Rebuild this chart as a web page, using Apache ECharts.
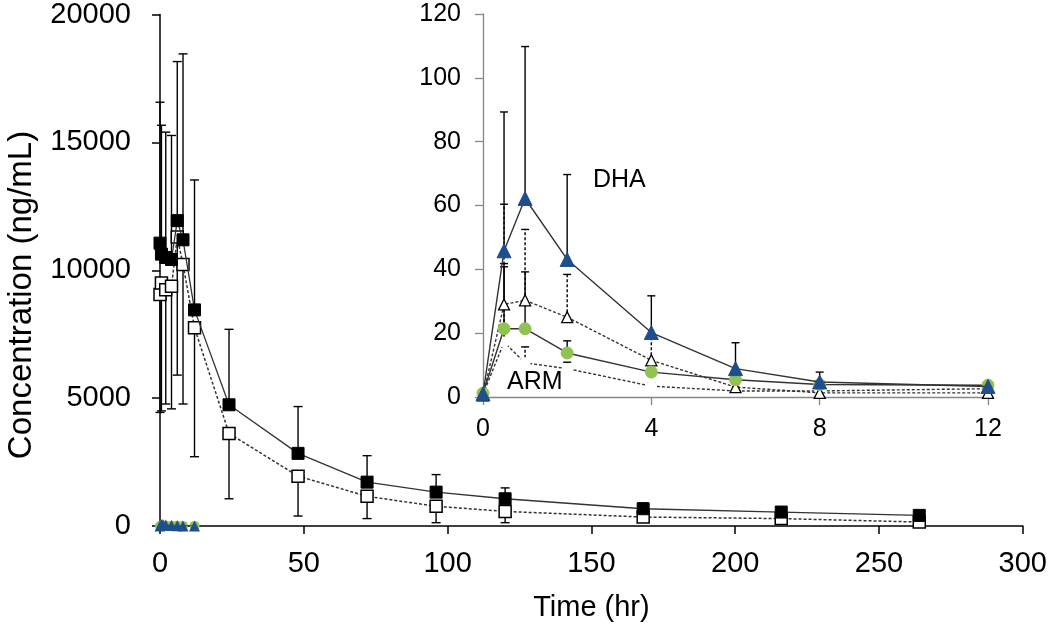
<!DOCTYPE html>
<html>
<head>
<meta charset="utf-8">
<script src="https://cdn.jsdelivr.net/npm/echarts@6.0.0/dist/echarts.min.js"></script>
<style>html,body{margin:0;padding:0;background:#fff}#c{width:1050px;height:627px}</style>
</head>
<body>
<div id="c"></div>
<script>
// ---- Main panel (squares) ----
const mainTimes = [0, 0.5, 2, 4, 6, 8, 12, 24, 48, 72, 96, 120, 168, 216, 264];
const filledSq = [11060, 10630, 10500, 10420, 11940, 11190, 8450, 4740, 2840, 1715, 1325, 1065, 675, 545, 415];
const filledSqSD = [5510, 5040, 4900, 4850, 6220, 7270, 5080, 2950, 1830, 1035, 685, 425, 225, 155, 105];
const openSq = [9050, 9500, 9240, 9370, 11300, 10220, 7750, 3620, 1950, 1160, 770, 570, 350, 290, 155];
const openSqSD = [4610, 5000, 4470, 4790, 5400, 5450, 5040, 2555, 1560, 870, 640, 440, 150, 90, 75];
const mainXTicks = [0, 50, 100, 150, 200, 250, 300];
const mainYTicks = [0, 5000, 10000, 15000, 20000];

// ---- Inset (ARM / DHA) ----
const insetTimes = [0, 0.5, 1, 2, 4, 6, 8, 12];
const dhaFilled = [1.0, 45.8, 62.2, 43.1, 20.2, 8.9, 4.7, 3.3];
const dhaFilledSD = [0.5, 43.5, 47.6, 26.6, 11.5, 8.1, 3.1, 0.5];
const dhaOpen = [0.5, 29.0, 30.3, 25.0, 11.5, 3.1, 1.3, 1.3];
const dhaOpenSD = [1.0, 31.4, 22.2, 13.4, 8.0, 1.0, 0.5, 0.3];
const armFilled = [1.2, 21.4, 21.4, 13.8, 7.8, 5.4, 3.9, 3.7];
const armFilledSD = [0.5, 19.4, 17.8, 3.8, 1.0, 0.5, 0.5, 0.5];
const armOpen = [0.8, 17.2, 10.7, 8.9, 3.4, 1.9, 1.9, 2.6];
const armOpenSD = [0.5, 24.6, 5.0, 2.0, 1.0, 0.5, 0.3, 0.3];
const insetXTicks = [0, 4, 8, 12];
const insetYTicks = [0, 20, 40, 60, 80, 100, 120];

const BLUE = '#1f4e8c';
const GREEN = '#92c352';
const FONT = 'Liberation Sans, Arial, sans-serif';

function pairs(xs, ys) { return xs.map((x, i) => [x, ys[i]]); }
function triples(xs, ys, es) { return xs.map((x, i) => [x, ys[i], es[i]]); }

function errSeries(xi, yi, data, dir, cap, dashed, z) {
  return {
    type: 'custom', xAxisIndex: xi, yAxisIndex: yi, z: z || 2, silent: true,
    encode: { x: 0, y: 1 },
    data: data,
    renderItem: function (params, api) {
      const x = api.value(0), y = api.value(1), e = api.value(2);
      const p0 = api.coord([x, y]);
      const p1 = api.coord([x, y + dir * e]);
      const st = { stroke: '#000', lineWidth: 1.4, lineDash: dashed ? [3, 2] : null };
      return {
        type: 'group',
        children: [
          { type: 'line', shape: { x1: p0[0], y1: p0[1], x2: p1[0], y2: p1[1] }, style: st },
          { type: 'line', shape: { x1: p1[0] - cap / 2, y1: p1[1], x2: p1[0] + cap / 2, y2: p1[1] }, style: { stroke: '#000', lineWidth: 1.4 } }
        ]
      };
    }
  };
}

const chart = echarts.init(document.getElementById('c'), null, { renderer: 'canvas' });
const option = {
  animation: false,
  backgroundColor: '#fff',
  textStyle: { fontFamily: FONT },
  grid: [
    { left: 160, right: 26, top: 12, bottom: 101, containLabel: false },
    { left: 483, right: 62, top: 14, bottom: 230, containLabel: false }
  ],
  xAxis: [
    {
      gridIndex: 0, type: 'value', min: 0, max: 300, interval: 50,
      name: 'Time (hr)', nameLocation: 'middle', nameGap: 67,
      nameTextStyle: { fontSize: 29, color: '#000', fontFamily: FONT },
      axisLine: { onZero: false, lineStyle: { color: '#000', width: 1.5 } },
      axisTick: { show: true, inside: false, length: 8, lineStyle: { color: '#000', width: 1.5 } },
      axisLabel: { fontSize: 29, color: '#000', margin: 23, fontFamily: FONT,
        formatter: v => mainXTicks.includes(v) ? String(v) : '' },
      splitLine: { show: false }
    },
    {
      gridIndex: 1, type: 'value', min: 0, max: 12, interval: 4,
      axisLine: { onZero: false, lineStyle: { color: '#868686', width: 1.3 } },
      axisTick: { show: true, inside: false, length: 8, lineStyle: { color: '#868686', width: 1.3 } },
      axisLabel: { fontSize: 25, color: '#000', margin: 20, fontFamily: FONT,
        formatter: v => insetXTicks.includes(v) ? String(v) : '' },
      splitLine: { show: false }
    }
  ],
  yAxis: [
    {
      gridIndex: 0, type: 'value', min: 0, max: 20000, interval: 5000,
      axisLine: { show: true, onZero: false, lineStyle: { color: '#000', width: 1.5 } },
      axisTick: { show: true, inside: false, length: 8, lineStyle: { color: '#000', width: 1.5 } },
      axisLabel: { fontSize: 29, color: '#000', margin: 29, fontFamily: FONT,
        formatter: v => mainYTicks.includes(v) ? String(v) : '' },
      splitLine: { show: false }
    },
    {
      gridIndex: 1, type: 'value', min: 0, max: 120, interval: 20,
      axisLine: { show: true, onZero: false, lineStyle: { color: '#868686', width: 1.3 } },
      axisTick: { show: true, inside: false, length: 8, lineStyle: { color: '#868686', width: 1.3 } },
      axisLabel: { fontSize: 25, color: '#000', margin: 22, fontFamily: FONT,
        formatter: v => insetYTicks.includes(v) ? String(v) : '' },
      splitLine: { show: false }
    }
  ],
  graphic: [
    { type: 'text', x: 22, y: 295, rotation: Math.PI / 2,
      style: { text: 'Concentration (ng/mL)', fontSize: 33, fill: '#000', fontFamily: FONT, align: 'center', verticalAlign: 'middle' } },
    { type: 'text', left: 593, top: 168, style: { text: 'DHA', fontSize: 25, fill: '#000', fontFamily: FONT } },
    { type: 'text', left: 507, top: 370, style: { text: 'ARM', fontSize: 25, fill: '#000', fontFamily: FONT } }
  ],
  series: [
    // main error bars
    errSeries(0, 0, triples(mainTimes, openSq, openSqSD), -1, 9, false, 2),
    errSeries(0, 0, triples(mainTimes, filledSq, filledSqSD), 1, 9, false, 2),
    {
      type: 'line', xAxisIndex: 0, yAxisIndex: 0, z: 3,
      data: pairs(mainTimes, openSq),
      symbol: 'rect', symbolSize: 12,
      itemStyle: { color: '#fff', borderColor: '#000', borderWidth: 1.5 },
      lineStyle: { color: '#333', width: 1.5, type: [3, 2] }
    },
    {
      type: 'line', xAxisIndex: 0, yAxisIndex: 0, z: 4,
      data: pairs(mainTimes, filledSq),
      symbol: 'rect', symbolSize: 12,
      itemStyle: { color: '#000', borderColor: '#000', borderWidth: 1 },
      lineStyle: { color: '#333', width: 1.3, type: 'solid' }
    },
    // ARM/DHA on main scale (near zero)
    {
      type: 'line', xAxisIndex: 0, yAxisIndex: 0, z: 5,
      data: pairs(insetTimes, armFilled),
      symbol: 'circle', symbolSize: 10,
      itemStyle: { color: GREEN }, lineStyle: { color: '#333', width: 1 }
    },
    {
      type: 'line', xAxisIndex: 0, yAxisIndex: 0, z: 6,
      data: pairs(insetTimes, dhaFilled),
      symbol: 'triangle', symbolSize: 11,
      itemStyle: { color: BLUE }, lineStyle: { color: '#333', width: 1 }
    },
    // inset error bars
    errSeries(1, 1, triples(insetTimes, armOpen, armOpenSD), 1, 8, true, 2),
    errSeries(1, 1, triples(insetTimes, armFilled, armFilledSD), 1, 8, false, 2),
    errSeries(1, 1, triples(insetTimes, dhaOpen, dhaOpenSD), 1, 8, true, 2),
    errSeries(1, 1, triples(insetTimes, dhaFilled, dhaFilledSD), 1, 8, false, 2),
    // inset lines
    {
      type: 'line', xAxisIndex: 1, yAxisIndex: 1, z: 3,
      data: pairs(insetTimes, armOpen),
      symbol: 'emptyCircle', symbolSize: 9,
      itemStyle: { color: '#fff', borderColor: GREEN, borderWidth: 1.5 },
      lineStyle: { color: '#333', width: 1.4, type: [3, 2] }
    },
    {
      type: 'line', xAxisIndex: 1, yAxisIndex: 1, z: 4,
      data: pairs(insetTimes, dhaOpen),
      symbol: 'triangle', symbolSize: 11,
      itemStyle: { color: '#fff', borderColor: '#000', borderWidth: 1.3 },
      lineStyle: { color: '#333', width: 1.4, type: [3, 2] }
    },
    {
      type: 'line', xAxisIndex: 1, yAxisIndex: 1, z: 5,
      data: pairs(insetTimes, armFilled),
      symbol: 'circle', symbolSize: 12,
      itemStyle: { color: GREEN, borderColor: GREEN },
      lineStyle: { color: '#333', width: 1.4 }
    },
    {
      type: 'line', xAxisIndex: 1, yAxisIndex: 1, z: 6,
      data: pairs(insetTimes, dhaFilled),
      symbol: 'triangle', symbolSize: 14,
      itemStyle: { color: BLUE, borderColor: BLUE },
      lineStyle: { color: '#333', width: 1.4 }
    }
  ]
};
chart.setOption(option);
</script>
</body>
</html>
